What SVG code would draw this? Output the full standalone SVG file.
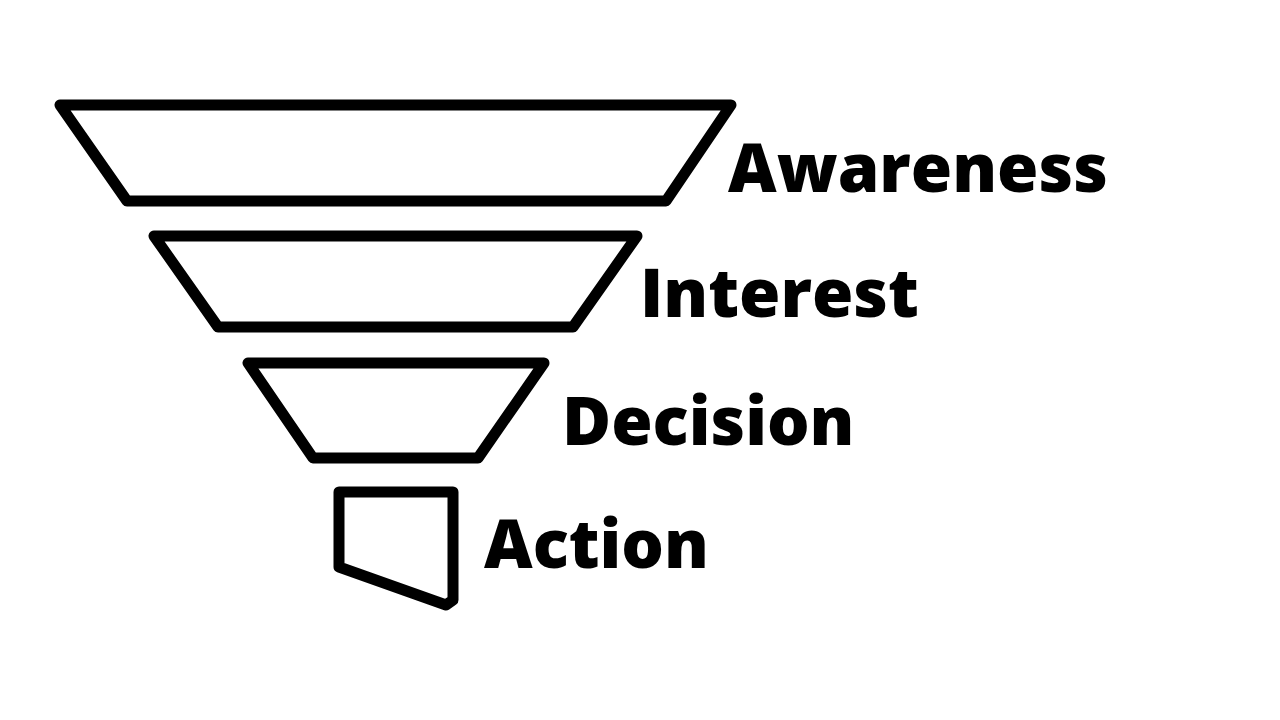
<svg xmlns="http://www.w3.org/2000/svg" width="1280" height="720" viewBox="0 0 1280 720">
<style>
.stage{fill:#fff;stroke:#000;stroke-width:11;stroke-linejoin:round}
.lbl{font-family:"Open Sans",sans-serif;font-weight:800;font-size:67px;fill:#000}
</style>
<rect width="1280" height="720" fill="#fff"/>
<g id="awareness">
<polygon class="stage" points="60,105 731,105 666,201 127,201"/>
<text class="lbl" x="728" y="192">Awareness</text>
</g>
<g id="interest">
<polygon class="stage" points="154,236 637,236 573,327 218,327"/>
<text class="lbl" x="640" y="317">Interest</text>
</g>
<g id="decision">
<polygon class="stage" points="248,363 544,363 478,458 313,458"/>
<text class="lbl" x="562" y="445">Decision</text>
</g>
<g id="action">
<polygon class="stage" points="339,492 453,492 453,600 446,605 339,567"/>
<text class="lbl" x="484" y="568">Action</text>
</g>
</svg>
